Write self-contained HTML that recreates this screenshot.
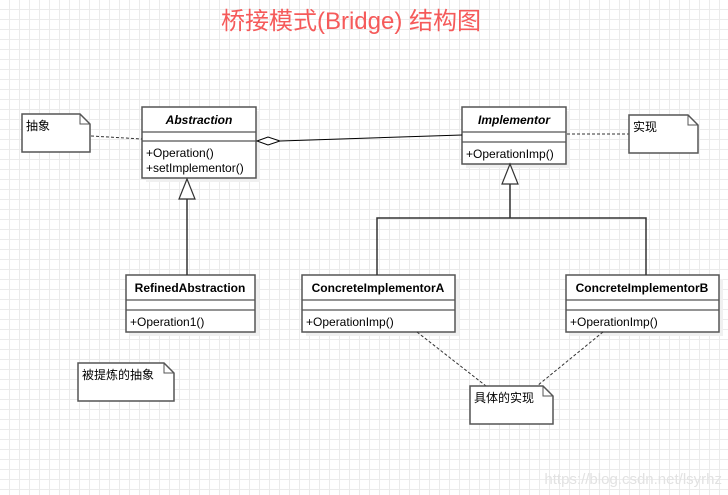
<!DOCTYPE html>
<html><head><meta charset="utf-8"><style>
html,body{margin:0;padding:0;}
body{width:728px;height:495px;overflow:hidden;background-color:#fff;
background-image:linear-gradient(#ebebeb 1px,transparent 1px),linear-gradient(90deg,#ebebeb 1px,transparent 1px);
background-size:10px 10px;background-position:-1px -1px;}
svg{position:absolute;left:0;top:0;}
text{font-family:"Liberation Sans","Noto Sans CJK SC",sans-serif;font-size:12px;fill:#000;}
</style></head><body>
<svg width="728" height="495" viewBox="0 0 728 495">
<text x="351" y="29" text-anchor="middle" style="font-size:24px;fill:#f55a5a">桥接模式(Bridge) 结构图</text>
<g fill="#f0f0f0">
<rect x="146" y="111" width="114" height="71"/><rect x="466" y="111" width="104" height="57"/>
<rect x="130" y="279" width="129" height="57"/><rect x="306" y="279" width="153" height="57"/><rect x="570" y="279" width="153" height="57"/>
</g>
<g stroke="#555" stroke-width="1.5" fill="#fff">
<rect x="142" y="107" width="114" height="71"/>
<rect x="462" y="107" width="104" height="57"/>
<rect x="126" y="275" width="129" height="57"/>
<rect x="302" y="275" width="153" height="57"/>
<rect x="566" y="275" width="153" height="57"/>
</g>
<g stroke="#555" stroke-width="1.2">
<line x1="142" y1="132" x2="256" y2="132"/><line x1="142" y1="141" x2="256" y2="141"/>
<line x1="462" y1="132" x2="566" y2="132"/><line x1="462" y1="142" x2="566" y2="142"/>
<line x1="126" y1="300" x2="255" y2="300"/><line x1="126" y1="310" x2="255" y2="310"/>
<line x1="302" y1="300" x2="455" y2="300"/><line x1="302" y1="310" x2="455" y2="310"/>
<line x1="566" y1="300" x2="719" y2="300"/><line x1="566" y1="310" x2="719" y2="310"/>
</g>
<g style="font-weight:bold">
<text x="199" y="124" text-anchor="middle" style="font-style:italic;font-weight:bold">Abstraction</text>
<text x="514" y="124" text-anchor="middle" style="font-style:italic;font-weight:bold">Implementor</text>
<text x="190" y="292" text-anchor="middle" style="font-weight:bold">RefinedAbstraction</text>
<text x="378" y="292" text-anchor="middle" style="font-weight:bold">ConcreteImplementorA</text>
<text x="642" y="292" text-anchor="middle" style="font-weight:bold">ConcreteImplementorB</text>
</g>
<text x="146" y="157">+Operation()</text>
<text x="146" y="172">+setImplementor()</text>
<text x="466" y="158">+OperationImp()</text>
<text x="130" y="326">+Operation1()</text>
<text x="306" y="326">+OperationImp()</text>
<text x="570" y="326">+OperationImp()</text>
<!-- connectors -->
<g stroke="#000" stroke-width="1" fill="none">
<line x1="280" y1="141" x2="462" y2="135"/>
</g>
<polygon points="257,141 268,137 280,141 268,145" fill="#fff" stroke="#000" stroke-width="1"/>
<g stroke="#333" stroke-width="1.5" fill="none">
<line x1="187" y1="199" x2="187" y2="275"/>
<line x1="510" y1="184" x2="510" y2="218"/>
<polyline points="377,275 377,218 646,218 646,275"/>
</g>
<polygon points="187,179 179,199 195,199" fill="#fff" stroke="#333" stroke-width="1.2"/>
<polygon points="510,164 502,184 518,184" fill="#fff" stroke="#333" stroke-width="1.2"/>
<g stroke="#333" stroke-width="1" stroke-dasharray="3,2" fill="none">
<line x1="91" y1="136" x2="142" y2="139"/>
<line x1="567" y1="134" x2="629" y2="134"/>
<line x1="417" y1="332" x2="486" y2="386"/>
<line x1="603" y1="332" x2="537" y2="386"/>
</g>
<!-- notes -->
<g stroke="#555" stroke-width="1.5" fill="#fff">
<path d="M22,114 H80 L90,124 V152 H22 Z"/>
<path d="M629,115 H688 L698,125 V153 H629 Z"/>
<path d="M78,363 H164 L174,373 V401 H78 Z"/>
<path d="M470,386 H543 L553,396 V424 H470 Z"/>
</g>
<g stroke="#555" stroke-width="1" fill="none">
<path d="M80,114 V124 H90"/><path d="M688,115 V125 H698"/><path d="M164,363 V373 H174"/><path d="M543,386 V396 H553"/>
</g>
<text x="26" y="130">抽象</text>
<text x="633" y="131">实现</text>
<text x="82" y="379">被提炼的抽象</text>
<text x="474" y="402">具体的实现</text>
<text x="722" y="484" text-anchor="end" style="font-size:15px;fill:#e2e2e2">https://blog.csdn.net/lsyrhz</text>
</svg>
</body></html>
